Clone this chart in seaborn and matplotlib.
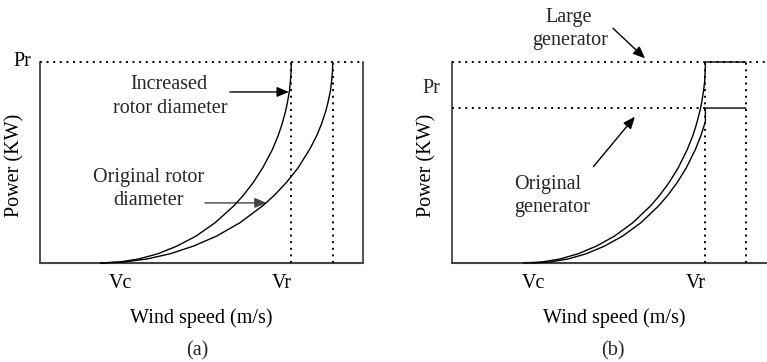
import matplotlib
matplotlib.use("Agg")
import matplotlib.pyplot as plt
import pandas as pd
import seaborn as sns

# ---- axis markers -------------------------------------------------------
tick_positions = [4, 12]
tick_labels = ["Vc", "Vr"]

# ---- normalised power levels -------------------------------------------
power_rated = 1.0           # (a) rated power, (b) large generator rating
power_rated_small = 0.771   # (b) original generator rating

# ---- panel (a): power curves for two rotor diameters --------------------
increased_speed = [3.00, 3.95, 4.89, 5.84, 6.78, 7.73, 8.67, 9.62, 10.09, 10.56,
                   11.03, 11.51, 11.79, 11.98, 12.17, 12.26, 12.36, 12.40, 12.44, 12.45]
increased_power = [0.0, 0.005, 0.020, 0.046, 0.084, 0.134, 0.200, 0.286, 0.339, 0.400,
                   0.473, 0.564, 0.632, 0.688, 0.757, 0.801, 0.859, 0.900, 0.955, 1.0]
original_speed = [3.00, 4.15, 5.30, 6.45, 7.60, 8.75, 9.90, 11.05, 11.63, 12.20,
                  12.78, 13.35, 13.70, 13.93, 14.16, 14.27, 14.39, 14.44, 14.49, 14.50]
original_power = [0.0, 0.005, 0.020, 0.046, 0.084, 0.134, 0.200, 0.286, 0.339, 0.400,
                  0.473, 0.564, 0.632, 0.688, 0.757, 0.801, 0.859, 0.900, 0.955, 1.0]
rated_speed_increased = 12.45
rated_speed_original = 14.5

# ---- panel (b): power curves for two generator sizes --------------------
large_gen_speed = [3.50, 4.40, 5.30, 6.20, 7.10, 8.00, 8.90, 9.80, 10.25, 10.70,
                   11.15, 11.60, 11.87, 12.05, 12.23, 12.32, 12.41, 12.46, 12.49, 12.50,
                   14.50]
large_gen_power = [0.0, 0.005, 0.020, 0.046, 0.084, 0.134, 0.200, 0.286, 0.339, 0.400,
                   0.473, 0.564, 0.632, 0.688, 0.757, 0.801, 0.859, 0.900, 0.955, 1.0,
                   1.0]
orig_gen_speed = [3.90, 4.80, 5.70, 6.60, 7.50, 8.40, 9.30, 10.20, 10.65, 11.10,
                  11.55, 12.00, 12.27, 12.45, 12.50, 12.50, 14.50]
orig_gen_power = [0.0, 0.005, 0.020, 0.046, 0.084, 0.134, 0.200, 0.286, 0.339, 0.400,
                  0.473, 0.564, 0.632, 0.688, 0.705, 0.771, 0.771]
rated_speed_b = 12.5
cutoff_speed_b = 14.5

# ---- style ---------------------------------------------------------------
sns.set_theme(style="white")
plt.rcParams["font.family"] = ["Liberation Serif", "DejaVu Serif"]
FS = 14.5
DOT = (0, (1, 2.4))
DOT_LW = 1.4
CURVE_LW = 1.0

fig = plt.figure(figsize=(7.67, 3.62), dpi=100)
ax_a = fig.add_axes([40 / 767, 99 / 362, 323 / 767, 201 / 362])
ax_b = fig.add_axes([452 / 767, 99 / 362, 315 / 767, 201 / 362])


def draw_curve(ax, xs, ys):
    df = pd.DataFrame({"speed": xs, "power": ys})
    sns.lineplot(data=df, x="speed", y="power", ax=ax, color="black",
                 lw=CURVE_LW, sort=False, estimator=None)
    ax.lines[-1].set_clip_on(False)
    ax.lines[-1].set_zorder(4)


def dotted_h(ax, y, x0, x1):
    ax.plot([x0, x1], [y, y], color="black", lw=DOT_LW, linestyle=DOT,
            clip_on=False, zorder=3)


def dotted_v(ax, x, y0, y1):
    ax.plot([x, x], [y0, y1], color="black", lw=DOT_LW, linestyle=DOT,
            clip_on=False, zorder=3)


def arrow(ax, start, tip, color="black"):
    ax.annotate("", xy=tip, xytext=start,
                arrowprops=dict(arrowstyle="-|>,head_length=0.6,head_width=0.25",
                                color=color, lw=1.0, shrinkA=0, shrinkB=0,
                                mutation_scale=12),
                annotation_clip=False)


def label(ax, x, y, s):
    ax.text(x, y, s, ha="center", va="baseline", fontsize=FS, clip_on=False)


# ---- panel (a) -----------------------------------------------------------
ax_a.set_xlim(0, 16)
ax_a.set_ylim(0, power_rated)
draw_curve(ax_a, increased_speed, increased_power)
draw_curve(ax_a, original_speed, original_power)
dotted_h(ax_a, power_rated, 0, 16)
dotted_v(ax_a, rated_speed_increased, 0, power_rated)
dotted_v(ax_a, rated_speed_original, 0, power_rated)

label(ax_a, 6.39, 0.864, "Increased")
label(ax_a, 6.44, 0.745, "rotor diameter")
arrow(ax_a, (9.41, 0.851), (12.33, 0.851))
label(ax_a, 5.40, 0.404, "Original rotor")
label(ax_a, 5.35, 0.289, "diameter")
arrow(ax_a, (8.17, 0.299), (11.23, 0.299), color="#444444")

ax_a.set_yticks([power_rated])
ax_a.set_yticklabels(["Pr"])
ax_a.set_xticks(tick_positions)
ax_a.set_xticklabels(tick_labels)

for side in ["left", "right", "bottom"]:
    ax_a.spines[side].set_visible(True)
    ax_a.spines[side].set_color("#222222")
    ax_a.spines[side].set_linewidth(1.1)
ax_a.spines["bottom"].set_linewidth(1.5)
ax_a.spines["bottom"].set_color("#444444")
ax_a.spines["top"].set_visible(False)

# ---- panel (b) -----------------------------------------------------------
xb0, xb1 = -0.05, 15.55
ax_b.set_xlim(xb0, xb1)
ax_b.set_ylim(0, power_rated)
draw_curve(ax_b, large_gen_speed, large_gen_power)
draw_curve(ax_b, orig_gen_speed, orig_gen_power)
dotted_h(ax_b, power_rated, xb0, xb1)
dotted_h(ax_b, power_rated_small, xb0, rated_speed_b)
dotted_v(ax_b, rated_speed_b, 0, power_rated)
dotted_v(ax_b, cutoff_speed_b, 0, power_rated)

label(ax_b, 5.75, 1.200, "Large")
label(ax_b, 5.79, 1.085, "generator")
arrow(ax_b, (7.92, 1.168), (9.51, 1.018))
label(ax_b, 4.70, 0.367, "Original")
label(ax_b, 4.93, 0.255, "generator")
arrow(ax_b, (6.95, 0.479), (9.01, 0.728))
label(ax_b, -1.09, 0.844, "Pr")

ax_b.set_yticks([])
ax_b.set_xticks(tick_positions)
ax_b.set_xticklabels(tick_labels)

for side in ["left", "bottom"]:
    ax_b.spines[side].set_visible(True)
    ax_b.spines[side].set_color("#222222")
    ax_b.spines[side].set_linewidth(1.1)
ax_b.spines["bottom"].set_linewidth(1.5)
ax_b.spines["bottom"].set_color("#444444")
ax_b.spines["top"].set_visible(False)
ax_b.spines["right"].set_visible(False)

# ---- shared tick / label formatting -------------------------------------
for ax, xl_x, yl_x in [(ax_a, 0.5, -0.0774), (ax_b, 0.514, -0.0803)]:
    ax.tick_params(axis="x", length=0, pad=8.0, labelsize=FS, colors="black")
    ax.tick_params(axis="y", length=0, pad=6.2, labelsize=FS, colors="black")
    for t in ax.get_yticklabels():
        t.set_verticalalignment("center")
    ax.set_xlabel("Wind speed (m/s)", fontsize=FS, color="black")
    ax.xaxis.set_label_coords(xl_x, -(322.7 - 263) / 201)
    ax.xaxis.label.set_verticalalignment("baseline")
    ax.set_ylabel("Power (KW)", fontsize=FS, color="black")
    ax.yaxis.set_label_coords(yl_x, 0.488)
    ax.yaxis.label.set_verticalalignment("center")
    ax.set_facecolor("white")

fig.text(197 / 767, 1 - 350.5 / 362, "(a)", ha="center", va="center", fontsize=FS)
fig.text(613 / 767, 1 - 350.5 / 362, "(b)", ha="center", va="center", fontsize=FS)

fig.savefig("out.png", dpi=100, facecolor="white")
